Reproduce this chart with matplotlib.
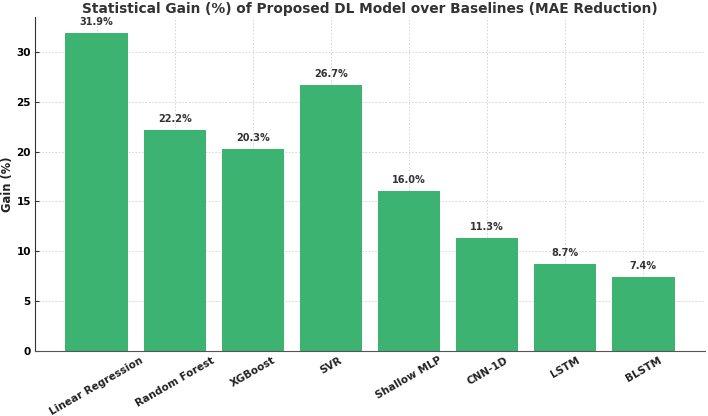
import matplotlib
matplotlib.use("Agg")
import matplotlib.pyplot as plt

models = ["Linear Regression", "Random Forest", "XGBoost", "SVR", "Shallow MLP", "CNN-1D", "LSTM", "BLSTM"]
gains = [31.9, 22.2, 20.3, 26.7, 16.0, 11.3, 8.7, 7.4]

fig = plt.figure(figsize=(7.08, 4.16), dpi=100)
ax = fig.add_axes([35/708, 1-351/416, 670/708, 334/416])
bars = ax.bar(models, gains, color="#3cb371", width=0.8, zorder=2)
ax.set_ylim(0, 33.5)
ax.grid(True, linestyle=(0, (2, 2)), color="#d0d0d0", linewidth=0.6, zorder=0)
ax.set_axisbelow(True)
for s in ["top", "right"]:
    ax.spines[s].set_visible(False)
ax.spines["left"].set_color("#333333")
ax.spines["bottom"].set_color("#555555")
for b, g in zip(bars, gains):
    ax.text(b.get_x() + b.get_width()/2, g + 0.6, f"{g:.1f}%", ha="center", va="bottom",
            fontsize=7, fontweight="bold", color="#333333")
ax.set_xticks(range(len(models)))
ax.set_xticklabels(models, rotation=30, ha="center", fontsize=7.5, fontweight="bold", color="#222222")
ax.tick_params(axis="both", direction="in", length=3, color="#333333", pad=3)
ax.tick_params(axis="y", labelsize=7.5)
for t in ax.get_yticklabels():
    t.set_fontweight("bold")
ax.set_ylabel("Gain (%)", fontsize=8.3, fontweight="bold", color="#222222")
ax.yaxis.set_label_coords(-0.031, 0.5)
ax.set_title("Statistical Gain (%) of Proposed DL Model over Baselines (MAE Reduction)",
             fontsize=9.9, fontweight="bold", color="#333333", pad=3)
fig.savefig("out.png", dpi=100)
